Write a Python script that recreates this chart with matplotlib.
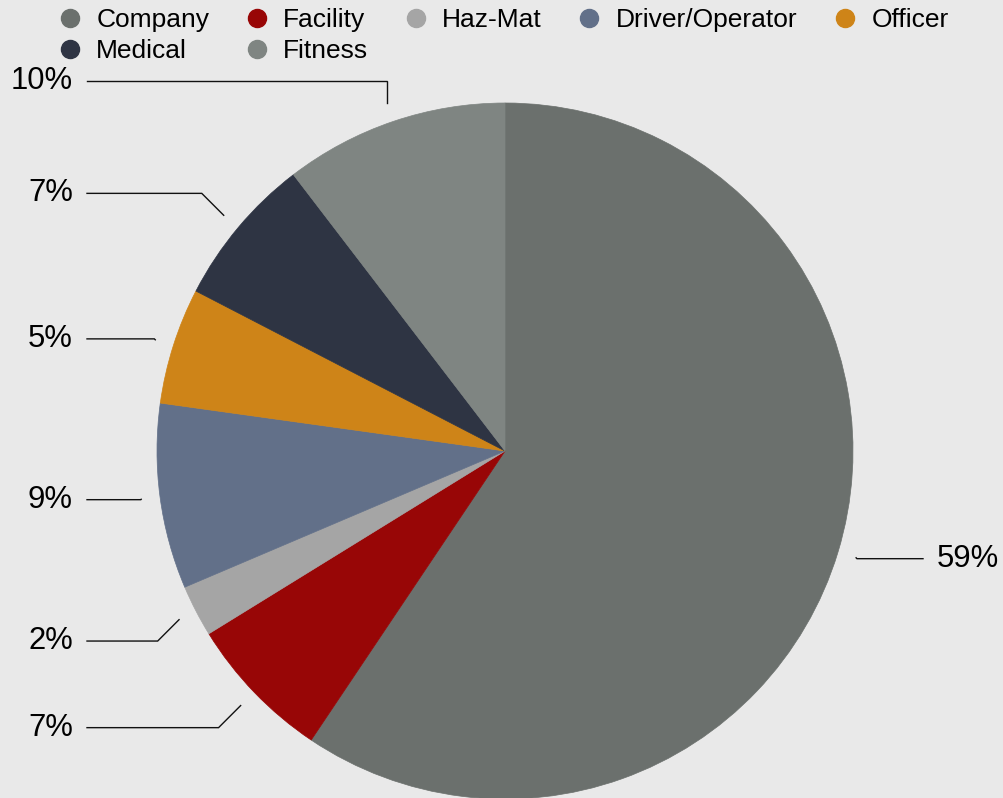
import matplotlib
matplotlib.use('Agg')
import matplotlib.pyplot as plt
from matplotlib.lines import Line2D
import numpy as np

# data (share of total, %)
categories = ['Company', 'Facility', 'Haz-Mat', 'Driver/Operator', 'Officer', 'Medical', 'Fitness']
shares = [59.4, 6.8, 2.4, 8.6, 5.4, 7.0, 10.4]
colors = ['#6b706d', '#980606', '#a5a5a5', '#627089', '#ce8418', '#2e3443', '#7f8582']

W, H = 1004, 798
BG = '#e9e9e9'
plt.rcParams['font.family'] = ['Liberation Sans', 'DejaVu Sans']

fig = plt.figure(figsize=(W / 100, H / 100), dpi=100, facecolor=BG)
ax = fig.add_axes([0, 0, 1, 1])
ax.set_facecolor(BG)

# axes in pixel units, y up
cx, cy, r = 505, H - 451, 348
wedges, _ = ax.pie(shares, colors=colors, startangle=90, counterclock=False,
                   center=(cx, cy), radius=r, wedgeprops=dict(linewidth=0.5))
for w in wedges:
    w.set_edgecolor(w.get_facecolor())
ax.set_xlim(0, W)
ax.set_ylim(0, H)
ax.set_aspect('auto')
ax.set_axis_off()

# data labels with connectors
total = sum(shares)
for w, val in zip(wedges, shares):
    mid = np.deg2rad((w.theta1 + w.theta2) / 2)
    c, s = np.cos(mid), np.sin(mid)
    x0, y0 = cx + 367 * c, cy + 367 * s
    y_lab = cy + 370 * s
    if abs(s) > 0.4:
        y_lab += 20 * np.sign(s)
    side = 1 if c > 0 else -1
    x_end = cx + side * 418
    dy = abs(y_lab - y0)
    xk = x0 + side * dy if abs(c) > 0.5 else x0
    ax.plot([x0, xk, x_end], [y0, y_lab, y_lab], color='#111111', lw=1.0,
            solid_joinstyle='miter')
    ax.text(x_end + side * 14, y_lab, f'{val / total * 100:.0f}%',
            ha='left' if side > 0 else 'right', va='center',
            fontsize=22.3, color='#000000')

# legend, row-major order for 5 columns
handles = [Line2D([], [], ls='', marker='o', ms=13, mfc=col, mec=col) for col in colors]
order = [0, 5, 1, 6, 2, 3, 4]
fig.legend([handles[i] for i in order], [categories[i] for i in order],
           ncol=5, loc='upper center', bbox_to_anchor=(0.502, 1 - 8 / H),
           frameon=False, fontsize=19, handlelength=0.8, handletextpad=0.6,
           columnspacing=1.4, labelspacing=0.27, borderpad=0, borderaxespad=0)

fig.savefig('out.png', dpi=100, facecolor=BG)
